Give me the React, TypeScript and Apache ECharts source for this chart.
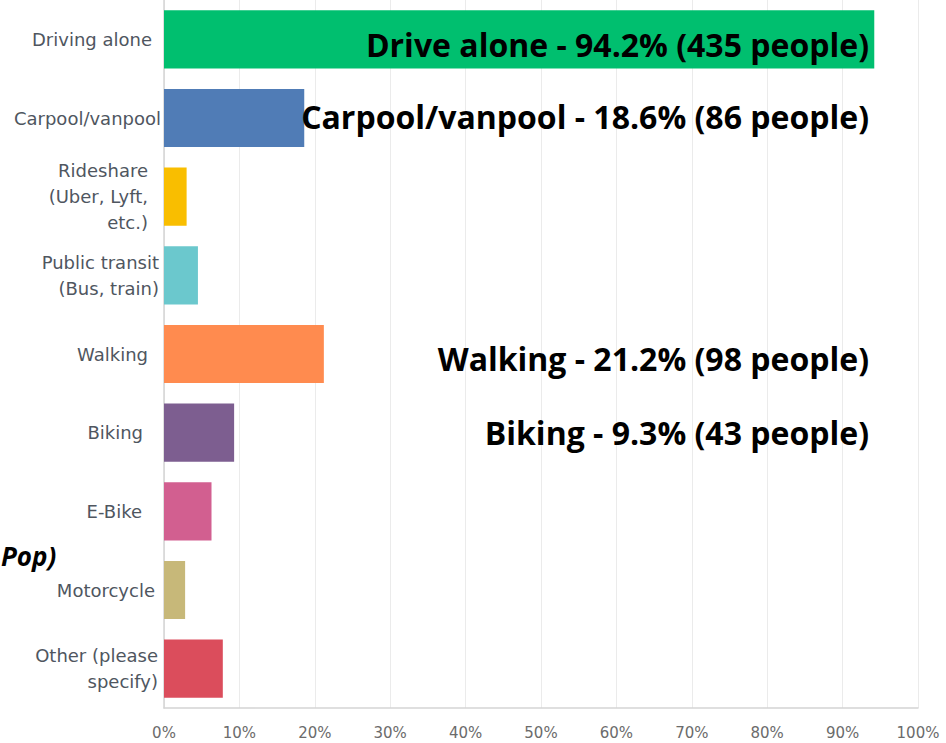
import React, { useEffect, useRef } from "react";
import * as echarts from "echarts";

const categories = [
  "Driving alone",
  "Carpool/vanpool",
  "Rideshare\n(Uber, Lyft,\netc.)",
  "Public transit\n(Bus, train)",
  "Walking",
  "Biking",
  "E-Bike",
  "Motorcycle",
  "Other (please\nspecify)",
];
const percentages = [94.2, 18.6, 3.0, 4.5, 21.2, 9.3, 6.3, 2.8, 7.8];
const barColors = [
  "#00BF6F",
  "#507CB6",
  "#F9BE00",
  "#6BC8CD",
  "#FF8B4F",
  "#7D5E90",
  "#D25F90",
  "#C7B879",
  "#DB4D5C",
];
const labelPadRight = [9, 0, 13, 2, 13, 18, 19, 6, 3];

const annotationTexts = [
  "Drive alone - 94.2% (435 people)",
  "Carpool/vanpool - 18.6% (86 people)",
  "Walking - 21.2% (98 people)",
  "Biking - 9.3% (43 people)",
];
const annotationY = [44, 116, 358, 432];
const sideNote = "Pop)";

export default function App() {
  const ref = useRef<HTMLDivElement>(null);
  useEffect(() => {
    if (!ref.current) return;
    const chart = echarts.init(ref.current, undefined, { renderer: "svg" });
    const rich: Record<string, any> = {};
    labelPadRight.forEach((p, i) => {
      rich["c" + i] = {
        padding: [0, p, 0, 0],
        lineHeight: 26,
        fontSize: 18,
        fontFamily: "DejaVu Sans",
        color: "#4f565f",
      };
    });
    chart.setOption({
      animation: false,
      backgroundColor: "#ffffff",
      grid: { left: 164, right: 28, top: 0, bottom: 35, containLabel: false },
      xAxis: {
        type: "value",
        min: 0,
        max: 100,
        interval: 10,
        axisLabel: {
          formatter: "{value}%",
          color: "#6b6b6b",
          fontSize: 15,
          fontFamily: "DejaVu Sans",
          margin: 17,
        },
        axisLine: { show: true, lineStyle: { color: "#d4d4d4", width: 1.5 } },
        axisTick: { show: false },
        splitLine: { show: true, lineStyle: { color: "#ebebeb", width: 1 } },
      },
      yAxis: {
        type: "category",
        data: categories,
        inverse: true,
        axisLine: { show: true, lineStyle: { color: "#d4d4d4", width: 1.5 } },
        axisTick: { show: false },
        axisLabel: {
          margin: 3,
          interval: 0,
          formatter: (value: string, index: number) =>
            value
              .split("\n")
              .map((l) => `{c${index}|${l}}`)
              .join("\n"),
          rich,
        },
      },
      series: [
        {
          type: "bar",
          barCategoryGap: "26%",
          data: percentages.map((v, i) => ({
            value: v,
            itemStyle: { color: barColors[i] },
          })),
        },
      ],
      graphic: [
        ...annotationTexts.map((t, i) => ({
          type: "text",
          x: 869,
          y: annotationY[i],
          z: 100,
          style: {
            text: t,
            fontSize: 32,
            fontWeight: "bold",
            fontFamily: "Open Sans",
            fill: "#000000",
            align: "right",
            verticalAlign: "middle",
          },
        })),
        {
          type: "text",
          x: 1,
          y: 556,
          z: 100,
          style: {
            text: sideNote,
            fontSize: 26,
            fontWeight: "bold",
            fontStyle: "italic",
            fontFamily: "Open Sans",
            fill: "#000000",
            align: "left",
            verticalAlign: "middle",
          },
        },
      ],
    });
    return () => chart.dispose();
  }, []);
  return (
    <div
      ref={ref}
      style={{ position: "absolute", left: 0, top: 0, width: 946, height: 743 }}
    />
  );
}
